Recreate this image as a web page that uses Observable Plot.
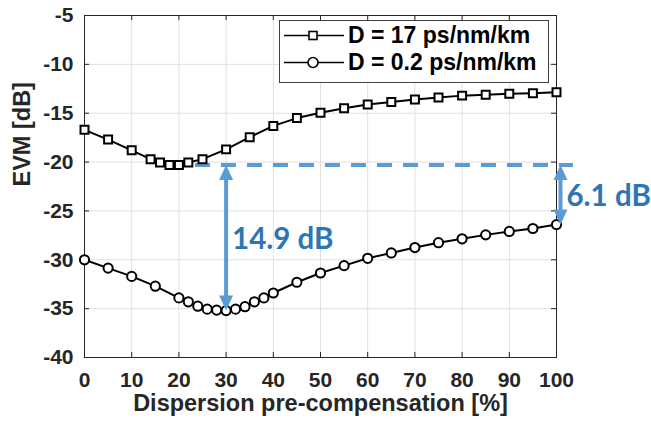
<!DOCTYPE html>
<html>
<head>
<meta charset="utf-8">
<script src="https://cdn.jsdelivr.net/npm/d3@7"></script>
<script src="https://cdn.jsdelivr.net/npm/@observablehq/plot@0.6"></script>
<style>
  body { margin: 0; background: #fff; }
  #chart { position: relative; width: 651px; height: 426px; }
  #chart svg { display: block; }
  .legend {
    position: absolute; left: 279px; top: 20px; width: 268px; height: 60px;
    border: 1px solid #404040; background: #fff; box-sizing: content-box;
    font: bold 23px "Liberation Sans", Arial, sans-serif; color: #000;
    padding-top: 1px;
  }
  .legend .row { display: flex; align-items: center; height: 27px; padding-left: 3px; white-space: nowrap; }
  .legend svg { flex: none; margin-right: 3px; }
</style>
</head>
<body>
<div id="chart"></div>
<script>
// EVM versus dispersion pre-compensation for two fibre dispersion values
const xTicks = [0, 10, 20, 30, 40, 50, 60, 70, 80, 90, 100];
const yTicks = [-40, -35, -30, -25, -20, -15, -10, -5];

const seriesNames = ["D = 17 ps/nm/km", "D = 0.2 ps/nm/km"];
const xLabel = "Dispersion pre-compensation [%]";
const yLabel = "EVM [dB]";

// D = 17 ps/nm/km
const pctD17 = [0, 5, 10, 14, 16, 18, 20, 22, 25, 30, 35, 40, 45, 50, 55, 60, 65, 70, 75, 80, 85, 90, 95, 100];
const evmD17 = [-16.7, -17.7, -18.8, -19.7, -20.05, -20.3, -20.3, -20.05, -19.7, -18.7, -17.45, -16.3, -15.5, -14.95,
                -14.5, -14.1, -13.85, -13.6, -13.4, -13.2, -13.1, -13.0, -12.95, -12.85];

// D = 0.2 ps/nm/km
const pctD02 = [0, 5, 10, 15, 20, 22, 24, 26, 28, 30, 32, 34, 36, 38, 40, 45, 50, 55, 60, 65, 70, 75, 80, 85, 90, 95, 100];
const evmD02 = [-30.0, -30.85, -31.7, -32.7, -33.9, -34.3, -34.75, -35.05, -35.15, -35.2, -35.05, -34.8, -34.3, -33.9,
                -33.4, -32.3, -31.35, -30.6, -29.85, -29.3, -28.75, -28.25, -27.85, -27.45, -27.1, -26.8, -26.4];

// pre-compensation values where the gap to the D = 17 optimum is marked
const gapAt = [30, 100];

const d17 = pctD17.map((x, i) => ({x, y: evmD17[i]}));
const d02 = pctD02.map((x, i) => ({x, y: evmD02[i]}));

const refLevel = d3.min(evmD17);
const refX = pctD17[d3.minIndex(evmD17)];
const gaps = gapAt.map(x => {
  const y = evmD02[pctD02.indexOf(x)];
  return {x, top: refLevel, bottom: y, mid: (refLevel + y) / 2, text: `${(refLevel - y).toFixed(1)} dB`};
});

const axisColor = "#262626";
const accent = "#5B9BD5";
const accentText = "#2E75B6";
const arrowShift = [0, 4];

// filled arrow heads with the tip at the anchor point
const headUp = {draw(ctx) { ctx.moveTo(0, 0); ctx.lineTo(7, 15); ctx.lineTo(-7, 15); ctx.closePath(); }};
const headDown = {draw(ctx) { ctx.moveTo(0, 0); ctx.lineTo(7, -15); ctx.lineTo(-7, -15); ctx.closePath(); }};

const [xMin, xMax] = [xTicks[0], xTicks[xTicks.length - 1]];
const [yMin, yMax] = [yTicks[0], yTicks[yTicks.length - 1]];

const gapMarks = gaps.flatMap((g, i) => [
  Plot.ruleX([g], {x: "x", y1: "top", y2: "bottom", insetTop: 12, insetBottom: 12,
    stroke: accent, strokeWidth: 4, dx: arrowShift[i]}),
  Plot.dot([g], {x: "x", y: "top", symbol: headUp, fill: accent, stroke: "none", dx: arrowShift[i]}),
  Plot.dot([g], {x: "x", y: "bottom", symbol: headDown, fill: accent, stroke: "none", dx: arrowShift[i]}),
  Plot.text([g], {x: "x", y: "mid", text: "text", textAnchor: "start", dx: arrowShift[i] + 6, dy: 2,
    fill: accentText, fontSize: 29.5, fontWeight: "bold", fontFamily: "Lato, 'Open Sans', sans-serif"})
]);

const chart = Plot.plot({
  width: 651,
  height: 426,
  marginLeft: 84,
  marginRight: 95,
  marginTop: 15,
  marginBottom: 69,
  x: {domain: [xMin, xMax]},
  y: {domain: [yMin, yMax]},
  style: {
    fontFamily: '"Liberation Sans", Arial, sans-serif',
    fontSize: "21px",
    fontWeight: "bold",
    color: axisColor,
    background: "white",
    overflow: "visible"
  },
  marks: [
    Plot.gridX(xTicks, {stroke: "#e0e0e0", strokeOpacity: 1}),
    Plot.gridY(yTicks, {stroke: "#e0e0e0", strokeOpacity: 1}),
    Plot.frame({stroke: axisColor}),
    // inward ticks on all four sides
    Plot.ruleX(xTicks, {x: d => d, y1: yMin, y2: yMin, insetTop: -5, stroke: axisColor}),
    Plot.ruleX(xTicks, {x: d => d, y1: yMax, y2: yMax, insetBottom: -5, stroke: axisColor}),
    Plot.ruleY(yTicks, {y: d => d, x1: xMin, x2: xMin, insetRight: -5, stroke: axisColor}),
    Plot.ruleY(yTicks, {y: d => d, x1: xMax, x2: xMax, insetLeft: -5, stroke: axisColor}),
    Plot.axisX({ticks: xTicks, tickSize: 0, tickPadding: 15, tickFormat: d => String(d), label: null}),
    Plot.axisY({ticks: yTicks, tickSize: 0, tickPadding: 11, tickFormat: d => String(d), label: null}),
    Plot.text([xLabel], {text: d => d, frameAnchor: "bottom", dy: 53, fontSize: 23.5}),
    Plot.text([yLabel], {text: d => d, frameAnchor: "left", rotate: -90, dx: -62, fontSize: 23.5}),
    // reference level at the D = 17 optimum
    Plot.ruleY([refLevel], {y: d => d, x1: refX, x2: xMax, insetRight: -17,
      stroke: accent, strokeWidth: 4, strokeDasharray: "15,11"}),
    Plot.line(d17, {x: "x", y: "y", stroke: "black", strokeWidth: 2}),
    Plot.dot(d17, {x: "x", y: "y", symbol: "square", r: 4.5, fill: "white", stroke: "black", strokeWidth: 2}),
    Plot.line(d02, {x: "x", y: "y", stroke: "black", strokeWidth: 2}),
    Plot.dot(d02, {x: "x", y: "y", symbol: "circle", r: 4.6, fill: "white", stroke: "black", strokeWidth: 2}),
    ...gapMarks
  ]
});

const root = document.getElementById("chart");
root.appendChild(chart);

// legend box
const legend = document.createElement("div");
legend.className = "legend";
const swatch = [
  '<rect x="26" y="9.5" width="8" height="8" fill="white" stroke="black" stroke-width="1.6"/>',
  '<circle cx="30" cy="13.5" r="5" fill="white" stroke="black" stroke-width="1.6"/>'
];
legend.innerHTML = seriesNames.map((name, i) =>
  `<div class="row"><svg width="62" height="27"><line x1="1" x2="61" y1="13.5" y2="13.5" stroke="black" stroke-width="1.6"/>${swatch[i]}</svg><span>${name}</span></div>`
).join("");
root.appendChild(legend);
</script>
</body>
</html>
